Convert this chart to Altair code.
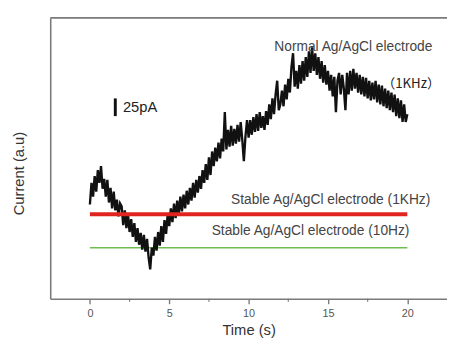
import altair as alt
import pandas as pd

# ---- data (current in arbitrary units, time in s) ----
normal_current = [
    96, 118, 104, 125, 109, 131, 118, 135, 112, 122,
    104, 121, 98, 113, 92, 109, 90, 101, 84, 97,
    94, 75, 90, 72, 86, 68, 81, 63, 77, 58,
    72, 55, 67, 50, 65, 48, 61, 42, 30, 52,
    44, 63, 49, 68, 54, 74, 58, 80, 66, 86,
    74, 92, 78, 97, 82, 100, 86, 104, 89, 106,
    92, 110, 96, 113, 100, 118, 103, 121, 108, 125,
    112, 131, 118, 137, 121, 144, 126, 150, 135, 154,
    140, 159, 143, 163, 150, 190, 152, 172, 155, 176,
    156, 173, 158, 177, 160, 180, 162, 140, 165, 182,
    164, 182, 167, 185, 170, 188, 171, 190, 174, 186,
    172, 191, 177, 198, 183, 204, 188, 208, 222, 192,
    198, 212, 196, 218, 203, 224, 210, 236, 250, 216,
    232, 214, 238, 219, 242, 222, 246, 226, 252, 230,
    256, 232, 250, 228, 246, 224, 242, 220, 238, 218,
    232, 212, 228, 206, 226, 190, 222, 230, 208, 228,
    214, 192, 230, 208, 232, 212, 234, 214, 230, 210,
    228, 208, 226, 206, 225, 204, 222, 202, 220, 203,
    222, 200, 218, 198, 217, 196, 214, 194, 212, 192,
    210, 190, 208, 186, 204, 184, 202, 180, 198, 180,
    188,
]
time_s = [round(i * 0.1, 1) for i in range(len(normal_current))]

stable_times = [0, 20]
stable_1khz_level = [86, 86]
stable_10hz_level = [52, 52]

major_ticks = [0, 5, 10, 15, 20]
minor_ticks = [2.5, 7.5, 12.5, 17.5]

scale_bar_time = [1.6]
scale_bar_low = [186]
scale_bar_high = [204]

# ---- chart ----
W, H = 404, 286
xscale = alt.Scale(domain=[-2.5, 22.5], nice=False, zero=False)
yscale = alt.Scale(domain=[0, 286], nice=False, zero=False)

trace_df = pd.DataFrame({"t": time_s, "i": normal_current})
stable_df = pd.DataFrame({"t": stable_times, "a": stable_1khz_level, "b": stable_10hz_level})

frame_col = "#7a7a7a"

trace = alt.Chart(trace_df).mark_line(color="#111111", strokeWidth=2.4, strokeJoin="miter").encode(
    x=alt.X("t:Q", scale=xscale,
            axis=alt.Axis(title="Time (s)", values=major_ticks, format="d", grid=False,
                          domainColor=frame_col, domainWidth=1.6, tickColor=frame_col,
                          tickWidth=1.4, tickSize=5, labelFont="Liberation Sans",
                          labelFontSize=11, labelColor="#555555", labelPadding=4,
                          titleFont="Liberation Sans", titleFontSize=15,
                          titleFontWeight="normal", titleColor="#333333", titlePadding=4)),
    y=alt.Y("i:Q", scale=yscale,
            axis=alt.Axis(title="Current (a.u)", labels=False, ticks=False, grid=False,
                          domainColor=frame_col, domainWidth=1.6,
                          titleFont="Liberation Sans", titleFontSize=15,
                          titleFontWeight="normal", titleColor="#333333",
                          titlePadding=24, titleY=158)),
)

red_line = alt.Chart(stable_df).mark_line(color="#e0231f", strokeWidth=4).encode(
    x=alt.X("t:Q", scale=xscale), y=alt.Y("a:Q", scale=yscale))
green_line = alt.Chart(stable_df).mark_line(color="#6cbf4e", strokeWidth=1.5).encode(
    x=alt.X("t:Q", scale=xscale), y=alt.Y("b:Q", scale=yscale))

minor = alt.Chart(pd.DataFrame({"t": minor_ticks})).mark_rule(
    color=frame_col, strokeWidth=1.2, clip=False).encode(
    x=alt.X("t:Q", scale=xscale), y=alt.value(H), y2=alt.value(H + 3))

top_border = alt.Chart(pd.DataFrame({"k": [0]})).mark_rule(
    color=frame_col, strokeWidth=1.6, clip=False).encode(
    x=alt.value(0), x2=alt.value(W), y=alt.value(0))

bar_df = pd.DataFrame({"t": scale_bar_time, "lo": scale_bar_low, "hi": scale_bar_high})
scale_bar = alt.Chart(bar_df).mark_rule(color="#111111", strokeWidth=3).encode(
    x=alt.X("t:Q", scale=xscale), y=alt.Y("lo:Q", scale=yscale), y2="hi:Q")


def label(text, t, v, size, align, font="Liberation Sans", color="#444444"):
    df = pd.DataFrame({"t": [t], "v": [v], "s": [text]})
    return alt.Chart(df).mark_text(align=align, baseline="middle", font=font,
                                   fontSize=size, color=color).encode(
        x=alt.X("t:Q", scale=xscale), y=alt.Y("v:Q", scale=yscale), text="s:N")


texts = [
    label("Normal Ag/AgCl electrode", 16.6, 256, 14, "center"),
    label("（1KHz）", 18.4, 219, 13.5, "left", font="Noto Sans CJK SC", color="#222222"),
    label("25pA", 2.08, 195, 15, "left", color="#222222"),
    label("Stable Ag/AgCl electrode (1KHz)", 15.17, 100, 14, "center"),
    label("Stable Ag/AgCl electrode (10Hz)", 13.9, 69, 14, "center"),
]

chart = alt.layer(top_border, minor, green_line, trace, red_line, scale_bar, *texts).properties(
    width=W, height=H,
    autosize=alt.AutoSizeParams(type="none"),
    padding={"left": 43, "top": 7, "right": 0, "bottom": 44},
    background="white",
).configure_view(stroke=None)

chart.save("out.html", embed_options={"renderer": "svg", "actions": False})
